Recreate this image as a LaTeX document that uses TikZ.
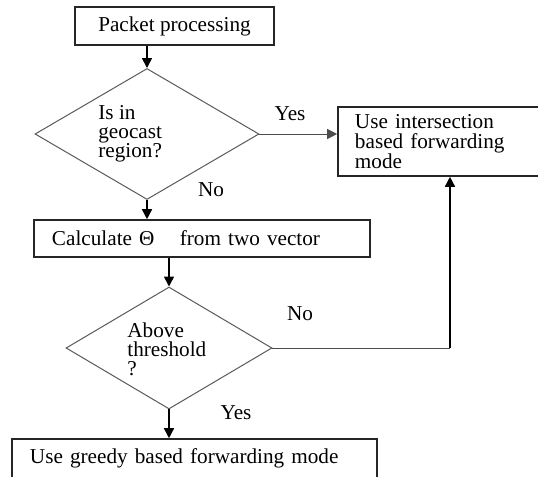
\documentclass[tikz,border=0pt]{standalone}
\usepackage{fontspec}
\setmainfont{Liberation Serif}
\usetikzlibrary{shapes.geometric,arrows.meta}

\tikzset{procbox/.style={draw=black!85, line width=0.8pt, rectangle, inner xsep=9pt, inner ysep=0pt, align=left, font=\fontsize{10.6}{9.8}\selectfont},
decision/.style={draw=black!65, line width=0.5pt, diamond, inner sep=0pt},
qtext/.style={anchor=west, align=left, inner sep=0pt, font=\fontsize{10.6}{9.6}\selectfont},
edgelbl/.style={inner sep=0pt, font=\fontsize{10.6}{11}\selectfont},
flow/.style={draw=black, line width=0.8pt, -{Triangle[length=5pt,width=5pt]}},
thinflow/.style={draw=black!70, line width=0.5pt, -{Triangle[length=5pt,width=5pt]}},
thinline/.style={draw=black!70, line width=0.5pt}}

\begin{document}
\begin{tikzpicture}[x=0.5pt,y=-0.5pt]

\useasboundingbox (0,0) rectangle (538,477);
\clip (0,0) rectangle (538,477);

%boxes
\node[procbox, align=center, minimum width=99.5pt, minimum height=19pt] (pkt) at (174.5,26) {Packet processing};
\node[procbox, text width=95pt, inner xsep=8.5pt, minimum height=34.5pt] (use) at (450,141.5) {Use intersection\\based forwarding\\mode};
\node[procbox, text width=150pt, minimum height=18.5pt] (theta) at (202,238.5) {Calculate Θ\hspace{1.2em}from two vector};
\node[procbox, text width=164.5pt, minimum height=19.5pt] (greedy) at (194.5,458.5) {Use greedy based forwarding mode};

%decisions
\node[decision, minimum width=112pt, minimum height=65.5pt] (geo) at (147,134) {};
\node[qtext] (geotext) at (98,134) {Is in\\geocast\\region?};

\node[decision, minimum width=103pt, minimum height=61pt] (thr) at (169,348) {};
\node[qtext] (thrtext) at (127,349) {Above\\threshold\\?};

%labels
\node[edgelbl] (yes1) at (290,114) {Yes};
\node[edgelbl] (no1) at (211,190) {No};
\node[edgelbl] (no2) at (300,314) {No};
\node[edgelbl] (yes2) at (236,413) {Yes};

%arrows
\draw[flow] (geo.north |- pkt.south) -- (geo.north);
\draw[thinflow] (geo.east) -- (geo.east -| use.west);
\draw[flow] (geo.south) -- (geo.south |- theta.north);
\draw[flow] (thr.north |- theta.south) -- (thr.north);
\draw[thinline] (thr.east) -- (thr.east -| use.south);
\draw[flow] (thr.east -| use.south) -- (use.south);
\draw[flow] (thr.south) -- (thr.south |- greedy.north);

\end{tikzpicture}
\end{document}
